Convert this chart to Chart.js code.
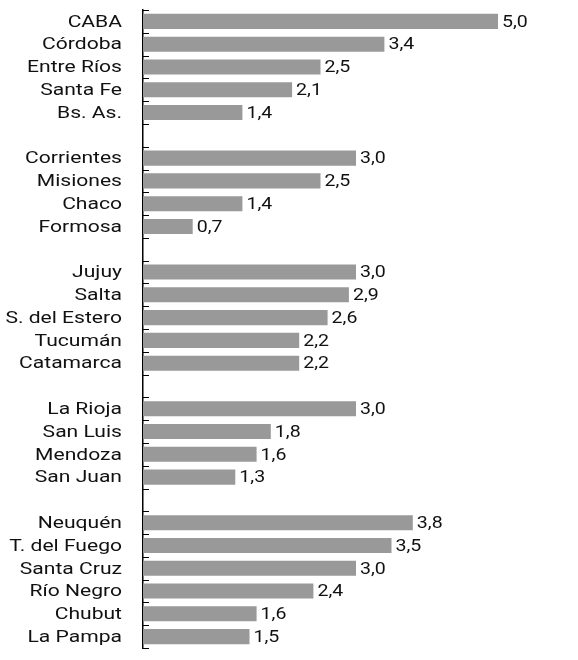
<!DOCTYPE html>
<html lang="es">
<head>
<meta charset="utf-8">
<title>Provincias</title>
<script src="https://cdn.jsdelivr.net/npm/chart.js@4"></script>
<style>
  html, body { margin: 0; padding: 0; background: #fff; }
  #wrap { width: 578px; height: 660px; position: relative; }
</style>
</head>
<body>
<div id="wrap"><canvas id="provChart"></canvas></div>
<script>
"use strict";

// one list per region; an empty row is put between regions
const centroNames = ["CABA", "Córdoba", "Entre Ríos", "Santa Fe", "Bs. As."];
const centroValues = [5.0, 3.4, 2.5, 2.1, 1.4];
const neaNames = ["Corrientes", "Misiones", "Chaco", "Formosa"];
const neaValues = [3.0, 2.5, 1.4, 0.7];
const noaNames = ["Jujuy", "Salta", "S. del Estero", "Tucumán", "Catamarca"];
const noaValues = [3.0, 2.9, 2.6, 2.2, 2.2];
const cuyoNames = ["La Rioja", "San Luis", "Mendoza", "San Juan"];
const cuyoValues = [3.0, 1.8, 1.6, 1.3];
const patagoniaNames = ["Neuquén", "T. del Fuego", "Santa Cruz", "Río Negro", "Chubut", "La Pampa"];
const patagoniaValues = [3.8, 3.5, 3.0, 2.4, 1.6, 1.5];

const nameGroups = [centroNames, neaNames, noaNames, cuyoNames, patagoniaNames];
const valueGroups = [centroValues, neaValues, noaValues, cuyoValues, patagoniaValues];

const labels = [];
const values = [];
nameGroups.forEach((names, g) => {
  if (g > 0) { labels.push(""); values.push(null); }
  names.forEach((n, i) => { labels.push(n); values.push(valueGroups[g][i]); });
});

const fontFamily = "Roboto, 'Noto Sans', sans-serif";

// the original text is a bit wider than plain Roboto
function wideText(ctx, text, x, y, stretch) {
  ctx.save();
  ctx.translate(x, y);
  ctx.scale(stretch, 1);
  ctx.fillText(text, 0, 0);
  ctx.restore();
}

// small ticks on the inner side of the axis, at every row boundary,
// and the province names to the left of it
const axisExtras = {
  id: "axisExtras",
  afterDraw(chart) {
    const y = chart.scales.y;
    const ctx = chart.ctx;
    const x0 = y.right;
    ctx.save();
    ctx.strokeStyle = "#000";
    ctx.lineWidth = 1;
    for (let i = 0; i <= labels.length; i++) {
      const py = Math.round(y.getPixelForValue(i - 0.5)) + 0.5;
      ctx.beginPath();
      ctx.moveTo(x0, py);
      ctx.lineTo(x0 + 6, py);
      ctx.stroke();
    }
    ctx.font = "17px " + fontFamily;
    ctx.fillStyle = "#111";
    ctx.textAlign = "right";
    ctx.textBaseline = "middle";
    labels.forEach((name, i) => {
      if (!name) return;
      wideText(ctx, name, x0 - 21, y.getPixelForValue(i) + 1, 1.24);
    });
    ctx.restore();
  }
};

// value written after the end of each bar, with a decimal comma
const valueLabels = {
  id: "valueLabels",
  afterDatasetsDraw(chart) {
    const ctx = chart.ctx;
    const meta = chart.getDatasetMeta(0);
    ctx.save();
    ctx.font = "17px " + fontFamily;
    ctx.fillStyle = "#111";
    ctx.textAlign = "left";
    ctx.textBaseline = "middle";
    meta.data.forEach((bar, i) => {
      const v = values[i];
      if (v === null) return;
      wideText(ctx, v.toFixed(1).replace(".", ","), bar.x + 4, bar.y + 1, 1.15);
    });
    ctx.restore();
  }
};

const ctx = document.getElementById("provChart").getContext("2d");
new Chart(ctx, {
  type: "bar",
  data: {
    labels: labels,
    datasets: [{
      data: values,
      backgroundColor: "#999999",
      borderWidth: 0,
      barPercentage: 0.66,
      categoryPercentage: 1
    }]
  },
  options: {
    indexAxis: "y",
    responsive: true,
    maintainAspectRatio: false,
    animation: false,
    layout: { padding: { top: 10, bottom: 12, left: 0, right: 9 } },
    plugins: {
      legend: { display: false },
      tooltip: { enabled: false }
    },
    scales: {
      x: {
        display: false,
        min: 0,
        max: 6
      },
      y: {
        afterFit(scale) { scale.width = 143; },
        grid: { display: true, drawOnChartArea: false, drawTicks: false },
        border: { display: true, color: "#000", width: 1.5 },
        ticks: { display: false, autoSkip: false }
      }
    }
  },
  plugins: [axisExtras, valueLabels]
});
</script>
</body>
</html>
